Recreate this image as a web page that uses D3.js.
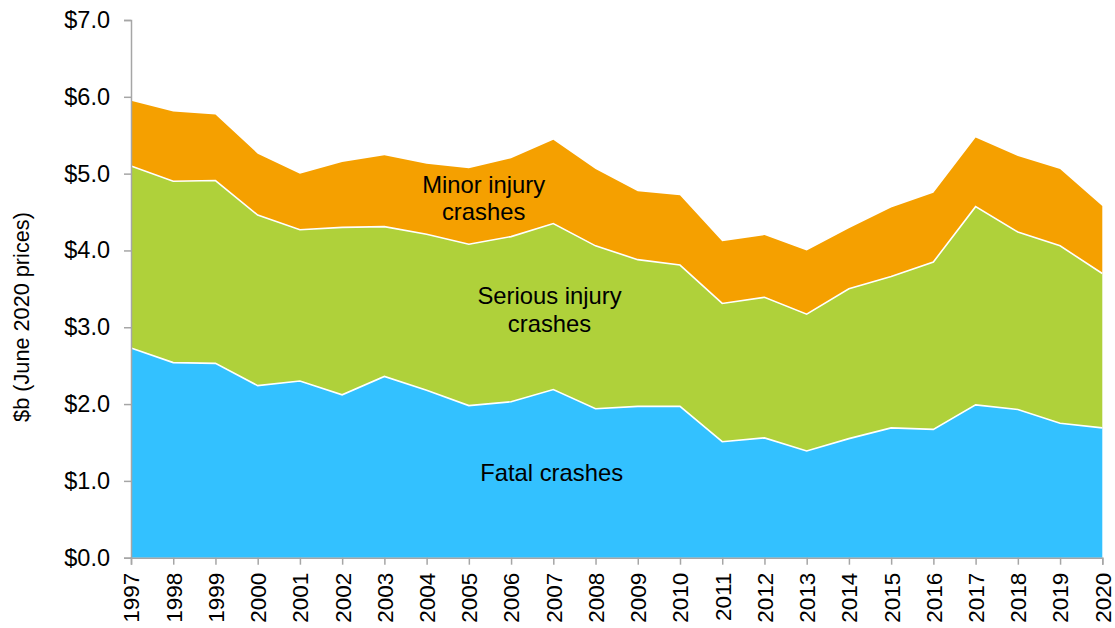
<!DOCTYPE html>
<html><head><meta charset="utf-8">
<script src="https://cdn.jsdelivr.net/npm/d3@7"></script>
<style>body{margin:0;background:#fff}svg{display:block}text{font-family:"Liberation Sans",Arial,sans-serif;fill:#000}</style>
</head><body>
<svg id="c" width="1115" height="628"></svg>
<script>
const years = d3.range(1997, 2021);
const fatal =   [2.73,2.54,2.53,2.24,2.30,2.12,2.36,2.18,1.98,2.03,2.19,1.94,1.97,1.97,1.51,1.56,1.39,1.55,1.69,1.67,1.99,1.93,1.75,1.69];
const serious = [2.37,2.36,2.38,2.22,1.97,2.18,1.95,2.03,2.10,2.15,2.16,2.12,1.91,1.84,1.80,1.83,1.78,1.95,1.97,2.18,2.58,2.31,2.31,2.01];
const minor =   [0.85,0.91,0.86,0.80,0.73,0.85,0.93,0.92,0.99,1.02,1.09,1.00,0.89,0.91,0.81,0.81,0.83,0.79,0.90,0.90,0.90,0.99,1.00,0.88];
const yTicks = [0,1,2,3,4,5,6,7];
const seriesKeys = ["fatal","serious","minor"];
const colors = {fatal:"#33C1FF", serious:"#AFD13A", minor:"#F5A000"};
const labels = [
  {key:"minor", lines:["Minor injury","crashes"], year:2005.35, val:4.75},
  {key:"serious", lines:["Serious injury","crashes"], year:2006.91, val:3.3},
  {key:"fatal", lines:["Fatal crashes"], year:2006.96, val:1.0}
];

const table = years.map((y,i)=>({year:y, fatal:fatal[i], serious:serious[i], minor:minor[i]}));
const svg = d3.select("#c");
const W = 1115, H = 628;
const m = {l:131, r:W-1102.3, t:20, b:H-557.7};
const x = d3.scaleLinear().domain([1997,2020]).range([m.l, W-m.r]);
const y = d3.scaleLinear().domain([0,7]).range([H-m.b, m.t]);

const stack = d3.stack().keys(seriesKeys)(table);
const area = d3.area().x(d=>x(d.data.year)).y0(d=>y(d[0])).y1(d=>y(d[1]));
const line = d3.line().x(d=>x(d.data.year)).y(d=>y(d[1]));

svg.append("g").selectAll("path").data(stack).join("path")
  .attr("d", area).attr("fill", d=>colors[d.key]);
svg.append("g").selectAll("path").data(stack.slice(0,2)).join("path")
  .attr("d", line).attr("fill","none").attr("stroke","#fff").attr("stroke-width",1.6);

// axes
const yAxis = d3.axisLeft(y).tickValues(yTicks).tickFormat(d=>"$"+d3.format(".1f")(d)).tickSize(7).tickPadding(14);
const gy = svg.append("g").attr("transform",`translate(${m.l},0)`).call(yAxis);
gy.select(".domain").attr("stroke","#A6A6A6").attr("stroke-width",1.5);
gy.selectAll(".tick line").attr("stroke","#A6A6A6").attr("stroke-width",1.5);
gy.selectAll(".tick text").attr("font-size",23.5).attr("font-family","Liberation Sans, Arial, sans-serif").attr("fill","#000");

const xAxis = d3.axisBottom(x).tickValues(years).tickFormat(d3.format("d")).tickSize(7).tickPadding(6);
const gx = svg.append("g").attr("transform",`translate(0,${y(0)})`).call(xAxis);
gx.select(".domain").attr("stroke","#A6A6A6").attr("stroke-width",1.5);
gx.selectAll(".tick line").attr("stroke","#A6A6A6").attr("stroke-width",1.5);
gx.selectAll(".tick text").attr("font-size",22.5).attr("font-family","Liberation Sans, Arial, sans-serif").attr("fill","#000")
  .attr("transform","rotate(-90)").attr("text-anchor","end").attr("dy","0.35em").attr("x",-15).attr("y",0);

svg.append("text").attr("transform",`translate(29,317) rotate(-90)`)
  .attr("text-anchor","middle").attr("font-size",21.7).text("$b (June 2020 prices)");

labels.forEach(L=>{
  const t = svg.append("text").attr("text-anchor","middle").attr("font-size",23.8)
    .attr("x", x(L.year)).attr("y", y(L.val));
  L.lines.forEach((s,i)=>t.append("tspan").attr("x",x(L.year)).attr("dy", i===0?0:27.4).text(s));
});
</script>
</body></html>
